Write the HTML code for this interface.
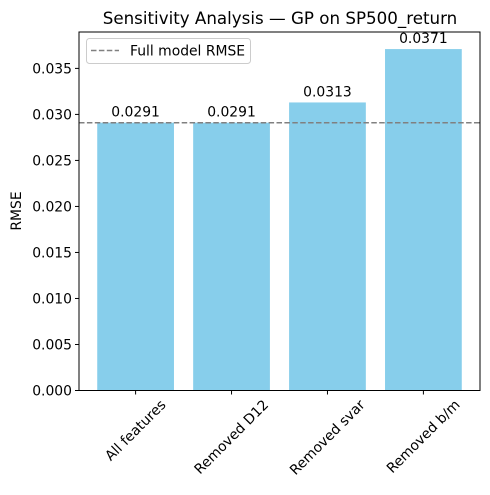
<!DOCTYPE html>
<html><head><meta charset="utf-8"><style>
html,body{margin:0;padding:0;background:#fff;}
text{font-family:"DejaVu Sans","Liberation Sans",sans-serif;fill:#000;}
</style></head><body>
<svg id="chart" width="490" height="490" xmlns="http://www.w3.org/2000/svg">
<rect width="490" height="490" fill="#fff"/>
<text x="280" y="24" font-size="16.7" text-anchor="middle">Sensitivity Analysis — GP on SP500_return</text>
<text transform="translate(21,211) rotate(-90)" font-size="13.9" text-anchor="middle">RMSE</text>
<g id="bars"></g>
<g id="yticks"></g>
<g id="xticks"></g>
<line id="refline" x1="79" x2="480" stroke="#808080" stroke-width="1.5" stroke-dasharray="5.5,2.4"/>
<rect x="79" y="32" width="401" height="358.5" fill="none" stroke="#000" stroke-width="1"/>
<g>
<rect x="86.5" y="38.5" width="164" height="25" rx="3" fill="#fff" fill-opacity="0.8" stroke="#ccc"/>
<line x1="91" x2="119" y1="50.5" y2="50.5" stroke="#808080" stroke-width="1.5" stroke-dasharray="5.5,2.4"/>
<text x="130" y="55.5" font-size="13.9">Full model RMSE</text>
</g>
</svg>
<script>
const categories=["All features","Removed D12","Removed svar","Removed b/m"];
const rmse=[0.0291,0.0291,0.0313,0.0371];
const valueLabels=["0.0291","0.0291","0.0313","0.0371"];
const yTicks=[0,0.005,0.010,0.015,0.020,0.025,0.030,0.035];
const yTickLabels=["0.000","0.005","0.010","0.015","0.020","0.025","0.030","0.035"];
const fullModel=0.0291;
const NS="http://www.w3.org/2000/svg";
const L=79,R=480,T=32,B=390.5;
const ymax=Math.max(...rmse)*1.05;
const y=v=>B-v/ymax*(B-T);
const xmin=-0.59,xmax=categories.length-1+0.59;
const x=i=>L+(i-xmin)/(xmax-xmin)*(R-L);
const bw=0.8*(R-L)/(xmax-xmin);
function mk(t,a,p){const e=document.createElementNS(NS,t);for(const k in a)e.setAttribute(k,a[k]);p.appendChild(e);return e;}
const gb=document.getElementById('bars'),gy=document.getElementById('yticks'),gx=document.getElementById('xticks');
rmse.forEach((v,i)=>{
 const r=mk('rect',{x:x(i)-bw/2,y:y(v),width:bw,height:B-y(v),fill:'#87ceeb'},gb);
 
 
 const t=mk('text',{x:x(i),y:y(v)-6,'font-size':13.9,'text-anchor':'middle'},gb);
 t.textContent=valueLabels[i];
 
 
 mk('line',{x1:x(i),x2:x(i),y1:B,y2:B+4,stroke:'#000'},gx);
 const xt=mk('text',{x:0,y:0,'font-size':13.9,'text-anchor':'middle'},gx);
 xt.textContent=categories[i];
 
 
 const len=xt.getComputedTextLength();
 const h=13.9*0.8;
 const ext=(len+h)*0.7071;
 const cx=x(i),cy=B+8+ext/2;
 xt.setAttribute('x',cx);xt.setAttribute('y',cy+h*0.4);
 xt.setAttribute('transform',`rotate(-45 ${cx} ${cy})`);
});
yTicks.forEach((v,i)=>{
 mk('line',{x1:L-4,x2:L,y1:y(v),y2:y(v),stroke:'#000'},gy);
 const t=mk('text',{x:L-7,y:y(v)+5,'font-size':13.9,'text-anchor':'end'},gy);
 t.textContent=yTickLabels[i];
 
 
});
const rl=document.getElementById('refline');
rl.setAttribute('y1',y(fullModel));rl.setAttribute('y2',y(fullModel));
</script>
</body></html>
